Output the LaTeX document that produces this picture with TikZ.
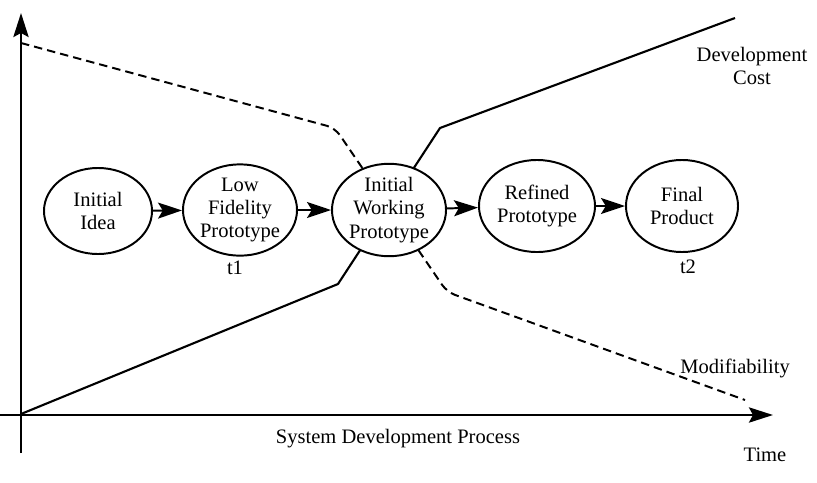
\documentclass[tikz,border=0pt]{standalone}
\usepackage{fontspec}
\setmainfont{Liberation Serif}
\usetikzlibrary{shapes.geometric,arrows.meta}
\begin{document}
\begin{tikzpicture}[x=0.025cm, y=-0.025cm,
		every node/.style={text=black, inner sep=0pt, align=center, font=\fontsize{14.6}{16.6}\selectfont},
		stage/.style={ellipse, draw, fill=white, line width=1.4pt},
		flow/.style={line width=1.4pt, -{Stealth[length=0.6cm, width=0.4cm, inset=0.12cm]}},
		axis/.style={line width=1.8pt, -{Stealth[length=0.6cm, width=0.38cm, inset=0.1cm]}},
		cost/.style={line width=1.5pt, line join=round},
		modif/.style={line width=1.4pt, dash pattern=on 6pt off 3.6pt, rounded corners=6pt}]
		\useasboundingbox (0,0) rectangle (817,482);
		\coordinate (origin) at (21,415);
		\coordinate (ybottom) at (21,453);
		\coordinate (ytop) at (21,13);
		\coordinate (xleft) at (0,415);
		\coordinate (xright) at (773,415);
		\draw[axis] (ybottom) -- (ytop);
		\draw[axis] (xleft) -- (xright);
		\coordinate (c0) at (21,414);
		\coordinate (c1) at (338,284);
		\coordinate (c2) at (440,128);
		\coordinate (c3) at (735,18);
		\draw[cost] (c0) -- (c1) -- (c2) -- (c3);
		\coordinate (m0) at (21,43);
		\coordinate (m1) at (335,128);
		\coordinate (m2) at (447,292);
		\coordinate (m3) at (745,400);
		\draw[modif] (m0) -- (m1) -- (m2) -- (m3);
		\node[stage, minimum width=2.7cm, minimum height=2.15cm] (idea) at (98,211) {Initial\\Idea};
		\node[stage, minimum width=2.85cm, minimum height=2.15cm] (lowfi) at (240,210) {Low\\Fidelity\\Prototype};
		\draw[flow] (idea) -- (lowfi);
		\node[stage, minimum width=2.85cm, minimum height=2.15cm] (working) at (389,210) {Initial\\Working\\Prototype};
		\draw[flow] (lowfi) -- (working);
		\node[stage, minimum width=2.9cm, minimum height=2.3cm] (refined) at (537,206) {Refined\\Prototype};
		\draw[flow] (working) -- (refined);
		\node[stage, minimum width=2.8cm, minimum height=2.3cm] (final) at (682,206) {Final\\Product};
		\draw[flow] (refined) -- (final);
		\node (t1) at (235,268) {t1};
		\node (t2) at (688,267) {t2};
		\node (costlabel) at (752,66) {Development\\Cost};
		\node (modlabel) at (735,368) {Modifiability};
		\node (timelabel) at (765,455) {Time};
		\node (processlabel) at (398,439) {System Development Process};
	\end{tikzpicture}
\end{document}
